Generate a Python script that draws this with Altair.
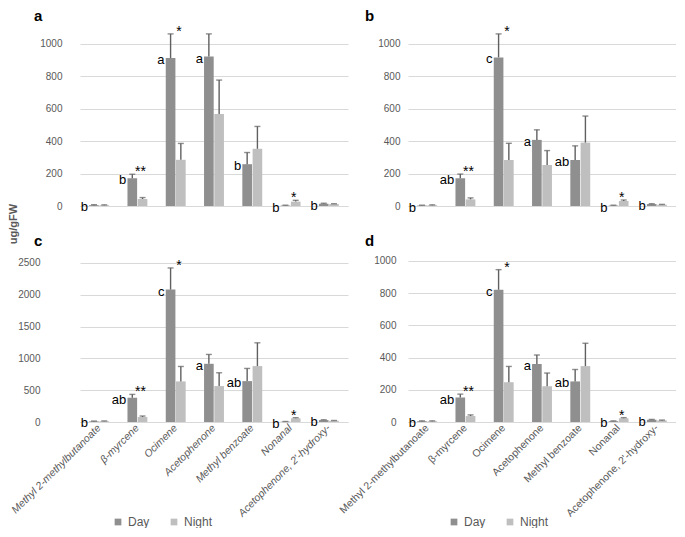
import altair as alt
import pandas as pd

compounds = ["Methyl 2-methylbutanoate", "β-myrcene", "Ocimene", "Acetophenone",
             "Methyl benzoate", "Nonanal", "Acetophenone, 2'-hydroxy-"]
periods = ["Day", "Night"]

# panel a
a_day = [5, 171, 913, 922, 258, 3, 14]
a_day_err = [3, 25, 149, 140, 72, 2, 3]
a_night = [5, 43, 285, 567, 353, 27, 12]
a_night_err = [2, 9, 101, 210, 138, 8, 2]
a_letters = ["b", "b", "a", "a", "b", "b", "b"]

# panel b
b_day = [3, 172, 917, 408, 284, 3, 12]
b_day_err = [2, 25, 145, 62, 87, 2, 2]
b_night = [5, 41, 284, 253, 391, 31, 8]
b_night_err = [2, 9, 103, 89, 164, 6, 2]
b_letters = ["b", "ab", "c", "a", "ab", "b", "b"]

# panel c
c_day = [10, 382, 2082, 915, 643, 5, 30]
c_day_err = [5, 52, 340, 147, 199, 3, 5]
c_night = [12, 78, 638, 565, 879, 58, 20]
c_night_err = [5, 16, 235, 209, 366, 10, 4]
c_letters = ["b", "ab", "c", "a", "ab", "b", "b"]

# panel d
d_day = [5, 152, 821, 360, 252, 5, 14]
d_day_err = [2, 21, 125, 56, 74, 2, 2]
d_night = [5, 37, 247, 222, 347, 23, 10]
d_night_err = [2, 7, 98, 82, 142, 4, 2]
d_letters = ["b", "ab", "c", "a", "ab", "b", "b"]

stars = ["", "**", "*", "", "", "*", ""]

ticks_1000 = [0, 200, 400, 600, 800, 1000]
ticks_2500 = [0, 500, 1000, 1500, 2000, 2500]

y_title = ["ug/gFW"]

FONT = "Liberation Sans"
GREY = "#595959"
DAY = "#8f8f8f"
NIGHT = "#bfbfbf"
ERR = "#606060"


def panel(tag, day, day_err, night, night_err, letters, ymax, yvals,
          bottom, italic, legend_x, width, height, label_pad, title_dx, with_ytitle=False):
    bars = pd.DataFrame({
        "compound": compounds * 2,
        "period": ["Day"] * len(compounds) + ["Night"] * len(compounds),
        "value": day + night,
        "top": [v + e for v, e in zip(day, day_err)] + [v + e for v, e in zip(night, night_err)],
    })
    ann = pd.DataFrame({
        "compound": compounds,
        "letter": letters,
        "star": stars,
        "day": day,
        "peak": [max(d + de, n + ne) for d, de, n, ne in zip(day, day_err, night, night_err)],
        "pday": ["Day"] * len(compounds),
        "pnight": ["Night"] * len(compounds),
    })
    if bottom:
        xaxis = alt.Axis(title=None, labelAngle=-45, labelAlign="right", labelBaseline="middle",
                         labelFont=FONT, labelFontSize=10.5, labelColor=GREY,
                         labelFontStyle="italic" if italic else "normal",
                         labelPadding=4, labelLimit=300, ticks=False, labelOverlap=False,
                         domainColor="#d9d9d9", domainWidth=1.2, grid=False)
    else:
        xaxis = alt.Axis(title=None, labels=False, ticks=False, domainColor="#d9d9d9",
                         domainWidth=1.2, grid=False)
    x = alt.X("compound:N", scale=alt.Scale(domain=compounds, paddingInner=0.48, paddingOuter=0.24),
              axis=xaxis)
    yscale = alt.Scale(domain=[0, ymax], nice=False)
    yaxis = alt.Axis(title=None, values=yvals, grid=True, gridColor="#d9d9d9", gridWidth=1,
                     domain=False, ticks=False, labelFont=FONT, labelFontSize=10, format="d",
                     labelOverlap=False, labelColor=GREY, labelPadding=label_pad)
    xo_scale = alt.Scale(domain=periods, paddingInner=0.06)

    if bottom:
        legend = alt.Legend(title=None, orient="none", legendX=legend_x, legendY=height + 94,
                            direction="horizontal", symbolType="square", symbolSize=45,
                            symbolStrokeWidth=0, labelFont=FONT, labelFontSize=12,
                            labelColor=GREY, columnPadding=18, labelOffset=4)
    else:
        legend = None

    bar = alt.Chart(bars).mark_bar().encode(
        x=x,
        xOffset=alt.XOffset("period:N", scale=xo_scale),
        y=alt.Y("value:Q", scale=yscale, axis=yaxis),
        color=alt.Color("period:N", scale=alt.Scale(domain=periods, range=[DAY, NIGHT]),
                        legend=legend),
    )
    rule = alt.Chart(bars).mark_rule(color=ERR, strokeWidth=1.4).encode(
        x=x,
        xOffset=alt.XOffset("period:N", scale=xo_scale),
        y=alt.Y("value:Q", scale=yscale, axis=yaxis),
        y2="top:Q",
    )
    cap = alt.Chart(bars).mark_tick(color=ERR, thickness=1.4, size=6, orient="horizontal").encode(
        x=x,
        xOffset=alt.XOffset("period:N", scale=xo_scale),
        y=alt.Y("top:Q", scale=yscale, axis=yaxis),
    )
    let = alt.Chart(ann).mark_text(align="right", baseline="middle", dx=-6, dy=2,
                                   font=FONT, fontSize=13, color="#000000").encode(
        x=x,
        xOffset=alt.XOffset("pday:N", scale=xo_scale),
        y=alt.Y("day:Q", scale=yscale, axis=yaxis),
        text="letter:N",
    )
    star = alt.Chart(ann).transform_filter(alt.datum.star != "").mark_text(
        align="center", baseline="middle", dx=-2, dy=-2, font=FONT, fontSize=14,
        color="#000000").encode(
        x=x,
        xOffset=alt.XOffset("pnight:N", scale=xo_scale),
        y=alt.Y("peak:Q", scale=yscale, axis=yaxis),
        text="star:N",
    )
    layers = [bar, rule, cap, let, star]
    if with_ytitle:
        yt = alt.Chart(pd.DataFrame({"t": y_title})).mark_text(
            angle=270, font=FONT, fontSize=11, fontWeight="bold", color=GREY,
            align="center", baseline="middle",
        ).encode(text="t:N", x=alt.value(-66), y=alt.value(height + 18))
        layers.append(yt)
    return alt.layer(*layers).properties(
        width=width, height=height,
        title=alt.TitleParams(tag, anchor="start", frame="group", font=FONT, fontSize=15,
                              fontWeight="bold", color="#000000", dx=title_dx, offset=1),
    )


pa = panel("a", a_day, a_day_err, a_night, a_night_err, a_letters, 1086, ticks_1000,
           False, True, 0, 268, 176, 18, -46, with_ytitle=True)
pb = panel("b", b_day, b_day_err, b_night, b_night_err, b_letters, 1086, ticks_1000,
           False, False, 0, 268, 176, 8, -43)
pc = panel("c", c_day, c_day_err, c_night, c_night_err, c_letters, 2704, ticks_2500,
           True, True, 32, 268, 172, 40, -46)
pd_ = panel("d", d_day, d_day_err, d_night, d_night_err, d_letters, 1068, ticks_1000,
            True, False, 40, 268, 172, 12, -43)

chart = alt.concat(
    pa, pb, pc, pd_, columns=2, bounds="flush", spacing={"row": 44, "column": 60}
).resolve_legend(
    color="independent"
).properties(padding=0).configure_view(stroke=None)

chart.save("out.html", embed_options={"renderer": "svg", "actions": False})
